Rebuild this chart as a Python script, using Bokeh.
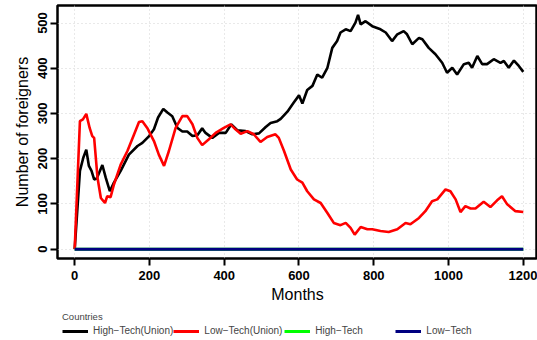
from bokeh.plotting import figure
from bokeh.layouts import column
from bokeh.models import FixedTicker, Range1d, Legend, LegendItem
from bokeh.embed import file_html
from bokeh.resources import INLINE

# Number of foreign workers per country type over the simulation (months)
months_ht_union = [0, 14, 23, 31, 38, 45, 52, 59, 74, 83, 94, 105, 123, 145, 168, 181, 199,
                   212, 223, 237, 248, 261, 275, 288, 301, 315, 328, 341, 350, 368, 386, 404,
                   419, 435, 457, 475, 493, 511, 524, 542, 551, 569, 586, 600, 609, 622, 636,
                   649, 662, 676, 689, 702, 711, 725, 738, 751, 758, 765, 778, 796, 818, 832,
                   849, 863, 880, 889, 903, 921, 930, 947, 965, 983, 996, 1010, 1023, 1041,
                   1054, 1063, 1077, 1090, 1103, 1121, 1139, 1148, 1161, 1175, 1188, 1200]
ht_union = [0, 173, 202, 220, 184, 173, 154, 156, 186, 158, 128, 147, 173, 209, 228, 235, 250,
            265, 291, 310, 302, 294, 268, 260, 260, 250, 252, 267, 257, 246, 257, 257,
            276, 263, 261, 254, 256, 270, 279, 283, 288, 304, 324, 340, 322, 352, 361,
            386, 379, 401, 445, 460, 479, 486, 482, 501, 518, 497, 504, 493, 486, 479,
            460, 475, 482, 475, 453, 467, 464, 445, 431, 412, 390, 401, 386, 409,
            412, 401, 427, 409, 409, 420, 412, 416, 401, 417, 405, 392]

months_lt_union = [0, 14, 22, 31, 40, 47, 52, 61, 70, 81, 87, 96, 105, 123, 141, 159, 172, 181,
                   194, 212, 225, 239, 252, 270, 288, 301, 315, 328, 341, 359, 377, 399, 417,
                   430, 444, 462, 479, 497, 515, 537, 546, 560, 578, 595, 609, 622, 640, 658,
                   676, 693, 711, 725, 738, 749, 765, 783, 796, 818, 840, 863, 885, 898, 921,
                   938, 956, 970, 992, 1005, 1019, 1032, 1045, 1059, 1072, 1094, 1112, 1130,
                   1143, 1157, 1179, 1200]
lt_union = [0, 283, 287, 299, 268, 250, 246, 158, 113, 102, 117, 115, 143, 187, 217, 254, 281, 283,
            268, 239, 209, 184, 217, 268, 294, 294, 276, 246, 230, 243, 257, 268, 276,
            265, 255, 261, 254, 237, 248, 254, 246, 217, 176, 154, 147, 128, 110, 102,
            80, 58, 53, 58, 47, 32, 49, 44, 44, 40, 38, 44, 58, 55, 69,
            84, 106, 110, 132, 128, 110, 82, 95, 90, 90, 105, 93, 108,
            117, 99, 84, 82]

months_flat = [0, 1200]
ht = [0, 0]
lt = [0, 0]

series_labels = ["High\u2212Tech(Union)", "Low\u2212Tech(Union)", "High\u2212Tech", "Low\u2212Tech"]
series_colors = ["black", "#FF0000", "#00FF00", "#000080"]
series_widths = [2.6, 2.6, 3, 3]

x_ticks = [0, 200, 400, 600, 800, 1000, 1200]
y_ticks = [0, 100, 200, 300, 400, 500]

FONT = "Liberation Sans"

p = figure(frame_width=480, frame_height=253, output_backend="svg", toolbar_location=None,
           x_range=Range1d(-46, 1238), y_range=Range1d(-20.7, 538.7),
           min_border_left=57, min_border_right=0, min_border_top=5, min_border_bottom=0)
p.background_fill_color = "white"
p.border_fill_color = "white"
p.outline_line_color = "black"
p.outline_line_width = 2.5

series = [(months_ht_union, ht_union), (months_lt_union, lt_union),
          (months_flat, ht), (months_flat, lt)]
for (xs, ys), c, w in zip(series, series_colors, series_widths):
    p.line(xs, ys, line_color=c, line_width=w)

for ax in (p.xaxis[0], p.yaxis[0]):
    ax.axis_line_color = None
    ax.major_tick_line_color = "black"
    ax.major_tick_line_width = 2
    ax.major_tick_out = 7
    ax.major_tick_in = 0
    ax.minor_tick_line_color = None
    ax.major_label_text_font = FONT
    ax.major_label_text_font_style = "bold"
    ax.major_label_text_font_size = "13px"
    ax.major_label_text_color = "black"
    ax.axis_label_text_font = FONT
    ax.axis_label_text_font_style = "normal"
    ax.axis_label_text_font_size = "16px"
    ax.axis_label_text_color = "black"

p.xaxis.ticker = FixedTicker(ticks=x_ticks)
p.yaxis.ticker = FixedTicker(ticks=y_ticks)
p.xaxis.axis_label = "Months"
p.yaxis.axis_label = "Number of foreigners"
p.xaxis.major_label_standoff = 5
p.xaxis.axis_label_standoff = 3
p.yaxis.major_label_standoff = 3
p.yaxis.axis_label_standoff = 5
p.yaxis.major_label_orientation = "vertical"

for g in (p.xgrid[0], p.ygrid[0]):
    g.grid_line_color = "#D3D3D3"
    g.grid_line_dash = "1 3"
    g.grid_line_width = 1

# Legend strip under the chart: swatch renderers carry only the line styles
lf = figure(width=537, height=34, output_backend="svg", toolbar_location=None,
            x_axis_type=None, y_axis_type=None,
            x_range=Range1d(0, 1), y_range=Range1d(0, 1),
            min_border_left=0, min_border_right=0, min_border_top=0, min_border_bottom=0)
lf.outline_line_color = None
lf.grid.visible = False
lf.background_fill_color = "white"
lf.border_fill_color = "white"

nan = float("nan")
items = []
for lab, c in zip(series_labels, series_colors):
    r = lf.line(x=[nan], y=[nan], line_color=c, line_width=3)
    items.append(LegendItem(label=lab, renderers=[r]))

legend = Legend(
    items=items, orientation="horizontal", location=(5, 3), title="Countries",
    title_text_font=FONT, title_text_font_size="9.5px", title_text_font_style="normal",
    title_standoff=3,
    label_text_font=FONT, label_text_font_size="10px",
    label_standoff=5, label_width=80, label_height=10,
    glyph_width=26, glyph_height=10, spacing=0, padding=0, margin=0,
    border_line_alpha=0, background_fill_alpha=0,
)
lf.add_layout(legend)

layout = column(p, lf, spacing=0)
open("out.html", "w").write(file_html(layout, INLINE))
